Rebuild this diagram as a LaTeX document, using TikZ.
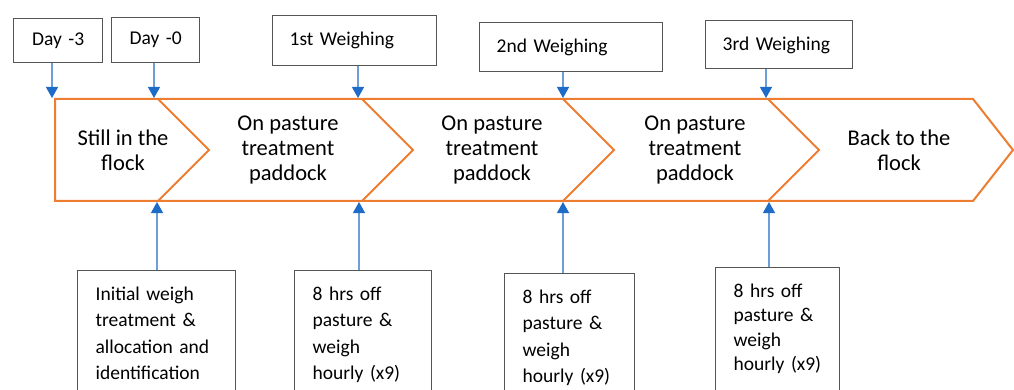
\documentclass[tikz,border=0pt]{standalone}
\usepackage{fontspec}
\setmainfont{Carlito}
\usepackage{tikz}
\usetikzlibrary{arrows.meta,positioning}
\definecolor{chevorange}{RGB}{237,125,49}
\definecolor{linkblue}{RGB}{108,158,218}
\definecolor{tipblue}{RGB}{30,108,200}
\definecolor{boxgray}{RGB}{85,85,85}
\tikzset{
    stageline/.style={draw=chevorange, line width=2pt},
    stagetext/.style={align=center, font=\fontsize{22.5}{25}\selectfont},
    daybox/.style={draw=boxgray, line width=1.3pt, anchor=north west, align=center, inner sep=0pt, font=\fontsize{19.5}{24}\selectfont},
    weighbox/.style={draw=boxgray, line width=1.3pt, anchor=north west, align=left, inner xsep=17pt, inner ysep=0pt, font=\fontsize{19.5}{24}\selectfont},
    notebox/.style={draw=boxgray, line width=1.3pt, anchor=north west, align=left, inner xsep=18pt, inner ysep=16pt, font=\fontsize{19.5}{26.5}\selectfont},
    link/.style={draw=linkblue, line width=1.3pt, -{Triangle[length=11pt,width=12pt,color=tipblue]}}
}
\begin{document}
\begin{tikzpicture}[x=1pt,y=-1pt]
                \useasboundingbox (0,0) rectangle (1014,390);
                \clip (0,0) rectangle (1014,390);

                \draw[stageline] (55,99) -- (973,99) -- (1013,150) -- (973,201) -- (55,201) -- cycle;
                \foreach \x in {158,362,563,768}
                    \draw[stageline] (\x,99) -- (\x+51,150) -- (\x,201);

                \node[stagetext] (s1) at (123,150) {Still in the\\flock};
                \node[stagetext] (s2) at (288,150) {On pasture\\treatment\\paddock};
                \node[stagetext] (s3) at (492,150) {On pasture\\treatment\\paddock};
                \node[stagetext] (s4) at (695,150) {On pasture\\treatment\\paddock};
                \node[stagetext] (s5) at (899,150) {Back to the\\flock};

                \node[daybox, minimum width=89pt, text width=89pt, minimum height=44pt] (dm3) at (13,18) {Day -3};
                \node[daybox, minimum width=88pt, text width=88pt, minimum height=45pt] (d0) at (111,17) {Day -0};
                \node[weighbox, text width=130pt, minimum height=50pt] (w1) at (272,15) {1st Weighing};
                \node[weighbox, text width=149pt, minimum height=49pt, text depth=2pt] (w2) at (479,22) {2nd Weighing};
                \node[weighbox, text width=113pt, minimum height=48pt, text depth=2pt] (w3) at (705,20) {3rd Weighing};

                \coordinate (tm3) at (52,98);
                \coordinate (t0) at (154,98);
                \coordinate (t1) at (358,98);
                \coordinate (t2) at (563,98);
                \coordinate (t3) at (766,98);
                \draw[link] (dm3.south -| tm3) -- (tm3);
                \draw[link] (d0.south -| t0) -- (t0);
                \draw[link] (w1.south -| t1) -- (t1);
                \draw[link] (w2.south -| t2) -- (t2);
                \draw[link] (w3.south -| t3) -- (t3);

                \node[notebox, text width=122pt] (n0) at (77,270) {Initial weigh\\treatment \&\\allocation and\\identification};
                \node[notebox, text width=101pt] (n1) at (294,270) {8 hrs off\\pasture \&\\weigh\\hourly (x9)};
                \node[notebox, text width=94pt] (n2) at (504,273) {8 hrs off\\pasture \&\\weigh\\hourly (x9)};
                \node[notebox, text width=88pt, font=\fontsize{19.5}{24.5}\selectfont] (n3) at (715,267) {8 hrs off\\pasture \&\\weigh\\hourly (x9)\\~};

                \coordinate (b0) at (157,202);
                \coordinate (b1) at (359,202);
                \coordinate (b2) at (563,202);
                \coordinate (b3) at (769,202);
                \draw[link] (n0.north -| b0) -- (b0);
                \draw[link] (n1.north -| b1) -- (b1);
                \draw[link] (n2.north -| b2) -- (b2);
                \draw[link] (n3.north -| b3) -- (b3);
\end{tikzpicture}
\end{document}
